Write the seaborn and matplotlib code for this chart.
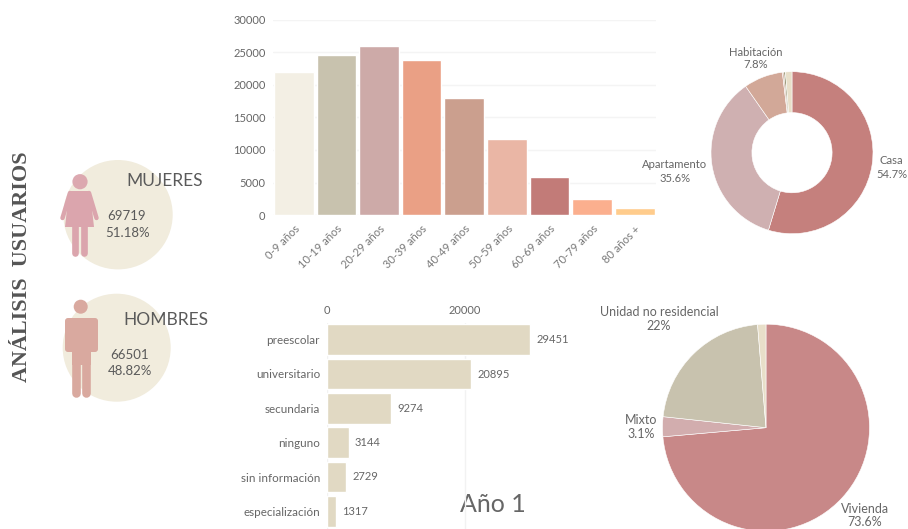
import matplotlib
matplotlib.use("Agg")
import matplotlib.pyplot as plt
from matplotlib.patches import Circle, Polygon, FancyBboxPatch
import pandas as pd
import seaborn as sns

age_labels = ["0-9 años", "10-19 años", "20-29 años", "30-39 años", "40-49 años",
              "50-59 años", "60-69 años", "70-79 años", "80 años +"]
age_values = [22000, 24600, 26000, 23900, 18000, 11700, 5800, 2500, 1100]
age_colors = ["#F3EFE4", "#C8C2AE", "#CDAAA8", "#EAA085", "#CB9F8E", "#EAB6A5", "#C27B78", "#FBAF8E", "#FFCC8C"]

edu_labels = ["preescolar", "universitario", "secundaria", "ninguno", "sin información", "especialización"]
edu_values = [29451, 20895, 9274, 3144, 2729, 1317]

home_values = [54.7, 35.6, 7.8, 0.3, 0.3, 1.3]
home_colors = ["#C5807D", "#CFB0B1", "#D2A898", "#D8B8A8", "#7C7A50", "#E8DFC9"]

use_values = [73.6, 3.1, 22.0, 1.3]
use_colors = ["#C88888", "#D2ADAE", "#C8C2AE", "#E8DFC9"]

W, H = 908, 529
TXT = "#666666"
plt.rcParams["font.family"] = ["Lato", "DejaVu Sans"]
sns.set_style("white")
plt.rcParams["font.family"] = ["Lato", "DejaVu Sans"]

fig = plt.figure(figsize=(W / 100, H / 100), dpi=100, facecolor="white")


def axpx(l, t, r, b, **kw):
    return fig.add_axes([l / W, 1 - b / H, (r - l) / W, (b - t) / H], **kw)


# pixel overlay for the decoration and free text
ov = axpx(0, 0, W, H)
ov.set_xlim(0, W)
ov.set_ylim(H, 0)
ov.axis("off")


def label(x, y, s, size=8, color=TXT, **kw):
    ov.text(x, y, s, ha="center", va="center", fontsize=size, color=color, **kw)


ov.add_patch(Circle((118, 214.7), 54.7, fc="#F1ECDD", ec="none"))
ov.add_patch(Circle((116.7, 347.7), 54, fc="#F1ECDD", ec="none"))

# woman icon
wc = "#DBA5AD"
ov.add_patch(Circle((80, 181.7), 7.6, fc=wc, ec="none", alpha=.95))
ov.add_patch(Polygon([(69, 191), (90, 191), (94, 227), (65, 227)], fc=wc, ec="none"))
ov.plot([70, 62.5], [193, 218], color=wc, lw=3.2, solid_capstyle="round")
ov.plot([89, 96.5], [193, 218], color=wc, lw=3.2, solid_capstyle="round")
ov.plot([75, 75], [226, 253], color=wc, lw=4.8, solid_capstyle="round")
ov.plot([83.5, 83.5], [226, 253], color=wc, lw=4.8, solid_capstyle="round")

# man icon
mc = "#D9A99F"
ov.add_patch(Circle((80.7, 306.7), 7, fc=mc, ec="none"))
ov.add_patch(FancyBboxPatch((65, 318), 33, 34, boxstyle="round,pad=0,rounding_size=3", fc=mc, ec="none"))
ov.add_patch(Polygon([(71.5, 345), (90.5, 345), (90.5, 365), (71.5, 365)], fc=mc, ec="none"))
ov.plot([76, 76], [360, 392.5], color=mc, lw=6.2, solid_capstyle="round")
ov.plot([86, 86], [360, 392.5], color=mc, lw=6.2, solid_capstyle="round")

label(164.5, 181, "MUJERES", 12.5, "#5A5A5A")
label(165.5, 320, "HOMBRES", 12.5, "#5A5A5A")
label(127, 216, "69719", 9.5, "#5A5A5A")
label(128, 233, "51.18%", 9.5, "#5A5A5A")
label(130, 355, "66501", 9.5, "#5A5A5A")
label(130, 371, "48.82%", 9.5, "#5A5A5A")
label(22.5, 267, "ANÁLISIS  USUARIOS", 15.9, "#555555", rotation=90,
      family="Liberation Serif", fontweight="bold")

# age bars
ax1 = axpx(272.5, 20, 656, 215)
age_df = pd.DataFrame({"edad": age_labels, "usuarios": age_values})
sns.barplot(data=age_df, x="edad", y="usuarios", hue="edad", palette=age_colors,
            legend=False, width=0.93, ax=ax1, saturation=1, zorder=3)
ax1.set_xlim(-0.5, 8.5)
ax1.set_ylim(0, 30000)
ax1.set_yticks(range(0, 30001, 5000))
ax1.set_xlabel("")
ax1.set_ylabel("")
ax1.grid(axis="y", color="#F4F4F4", lw=1)
ax1.set_axisbelow(True)
sns.despine(ax=ax1, left=True, bottom=True)
ax1.patch.set_alpha(0)
ax1.tick_params(axis="y", length=0, labelsize=8, labelcolor=TXT, pad=5)
ax1.tick_params(axis="x", length=0, labelsize=8, labelcolor="#777777", pad=6)
for t in ax1.get_xticklabels():
    t.set_rotation(45)
    t.set_ha("right")
    t.set_rotation_mode("anchor")

# education bars
ax2 = axpx(327, 322.5, 533.7, 528.5)
edu_df = pd.DataFrame({"nivel": edu_labels, "usuarios": edu_values})
sns.barplot(data=edu_df, y="nivel", x="usuarios", color="#E1D9C3", width=0.9,
            ax=ax2, saturation=1, zorder=3)
ax2.set_xlim(0, 30000)
ax2.set_ylim(5.5, -0.5)
ax2.set_xticks([0, 20000])
ax2.set_xlabel("")
ax2.set_ylabel("")
ax2.xaxis.tick_top()
ax2.grid(axis="x", color="#F2F2F2", lw=1)
ax2.set_axisbelow(True)
sns.despine(ax=ax2, left=True, bottom=True, top=True, right=True)
ax2.patch.set_alpha(0)
ax2.tick_params(axis="both", length=0, labelsize=8, labelcolor=TXT, pad=5)
ax2.tick_params(axis="y", labelsize=8.4)
ax2.bar_label(ax2.containers[0], padding=4.5, fontsize=8, color=TXT)

label(492.7, 504, "Año 1", 18, "#666666")

# home type donut
ax3 = axpx(792 - 81, 152.7 - 81, 792 + 81, 152.7 + 81)
ax3.pie(home_values, colors=home_colors, startangle=90, counterclock=False, radius=1,
        wedgeprops=dict(width=0.505, edgecolor="white", linewidth=0.4))
ax3.set_xlim(-1, 1)
ax3.set_ylim(-1, 1)
label(891.7, 161, "Casa", 8.1)
label(891.7, 174, f"{home_values[0]}%", 8.1)
label(675, 165, "Apartamento", 8.1)
label(675, 178, f"{home_values[1]}%", 8.1)
label(756, 52, "Habitación", 8.1)
label(756, 64, f"{home_values[2]}%", 8.1)

# land use pie
ax4 = axpx(766 - 103.5, 427.7 - 103.5, 766 + 103.5, 427.7 + 103.5)
ax4.pie(use_values, colors=use_colors, startangle=90, counterclock=False, radius=1,
        wedgeprops=dict(edgecolor="white", linewidth=0.4))
ax4.set_xlim(-1, 1)
ax4.set_ylim(-1, 1)
label(659, 312, "Unidad no residencial", 9)
label(659, 326, f"{use_values[2]:.0f}%", 9)
label(640.7, 420, "Mixto", 9)
label(640.7, 434, f"{use_values[1]}%", 9)
label(865, 509, "Vivienda", 9)
label(865, 521.5, f"{use_values[0]}%", 9)

fig.savefig("out.png", dpi=100)
